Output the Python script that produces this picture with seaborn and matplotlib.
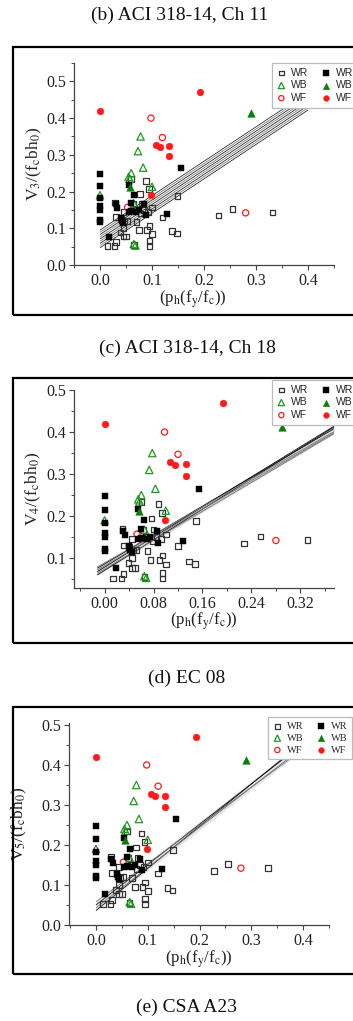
import numpy as np
import pandas as pd
import matplotlib
matplotlib.use("Agg")
import matplotlib.pyplot as plt
import seaborn as sns
from matplotlib.patches import Rectangle
from matplotlib.ticker import AutoMinorLocator, FixedLocator, FormatStrFormatter

# ---------------- data ----------------
wr_open_x = [0.014, 0.028, 0.031, 0.039, 0.045, 0.045, 0.050, 0.031, 0.045, 0.061, 0.029, 0.060,
             0.063, 0.070, 0.075, 0.077, 0.080, 0.085, 0.088, 0.090, 0.094, 0.095, 0.095, 0.095,
             0.100, 0.100, 0.120, 0.138, 0.148, 0.149, 0.228, 0.255, 0.332, 0.040, 0.068, 0.078,
             0.052, 0.065, 0.047, 0.092]
wr_open_y = [0.052, 0.052, 0.062, 0.088, 0.100, 0.077, 0.077, 0.130, 0.145, 0.148, 0.170, 0.234,
             0.167, 0.117, 0.095, 0.194, 0.168, 0.150, 0.229, 0.095, 0.207, 0.106, 0.065, 0.052,
             0.085, 0.156, 0.129, 0.092, 0.086, 0.188, 0.135, 0.152, 0.143, 0.127, 0.150, 0.140,
             0.120, 0.055, 0.118, 0.145]
wr_fill_x = [0.0, 0.0, 0.0, 0.0, 0.0, 0.0, 0.0, 0.018, 0.030, 0.033, 0.040, 0.042, 0.055, 0.055,
             0.060, 0.065, 0.070, 0.075, 0.085, 0.088, 0.128, 0.155, 0.060, 0.045]
wr_fill_y = [0.247, 0.215, 0.183, 0.160, 0.150, 0.122, 0.118, 0.077, 0.165, 0.155, 0.128, 0.120,
             0.145, 0.218, 0.170, 0.190, 0.145, 0.150, 0.165, 0.137, 0.140, 0.265, 0.147, 0.115]
wb_open_x = [0.0, 0.057, 0.060, 0.065, 0.073, 0.078, 0.083, 0.100, 0.065, 0.068, 0.055]
wb_open_y = [0.190, 0.235, 0.250, 0.168, 0.310, 0.350, 0.265, 0.213, 0.057, 0.053, 0.240]
wb_fill_x = [0.057, 0.290]
wb_fill_y = [0.213, 0.413]
wf_open_x = [0.053, 0.098, 0.120, 0.280]
wf_open_y = [0.157, 0.400, 0.347, 0.142]
wf_fill_x = [0.0, 0.193, 0.107, 0.115, 0.133, 0.133, 0.098]
wf_fill_y = [0.420, 0.470, 0.328, 0.322, 0.323, 0.296, 0.190]

# code-prediction bands (start / end values of each line)
band1_x = [0.0, 0.40]
band1_start = [0.047, 0.053, 0.059, 0.065, 0.071, 0.077, 0.083, 0.089, 0.095]
band1_end = [0.422, 0.428, 0.434, 0.440, 0.446, 0.452, 0.458, 0.464, 0.470]
band2_x = [-0.012, 0.375]
band2_start = [0.060, 0.064, 0.068, 0.072, 0.076, 0.079]
band2_end = [0.412, 0.396, 0.414, 0.398, 0.408, 0.401]
band3_x = [0.0, 0.44]
band3_start = [0.036, 0.043, 0.050, 0.058]
band3_end = [0.500, 0.485, 0.494, 0.478]

titles = ["(b) ACI 318-14, Ch 11", "(c) ACI 318-14, Ch 18", "(d) EC 08", "(e) CSA A23"]
ylabels = [r"V$_\mathrm{3}$/(f$_\mathrm{c}$bh$_\mathrm{0}$)",
           r"V$_\mathrm{4}$/(f$_\mathrm{c}$bh$_\mathrm{0}$)",
           r"V$_\mathrm{5}$/(f$_\mathrm{c}$bh$_\mathrm{0}$)"]
xlabel = r"(p$_\mathrm{h}$(f$_\mathrm{y}$/f$_\mathrm{c}$))"
xticks_a = [0.0, 0.1, 0.2, 0.3, 0.4]
xticks_b = [0.00, 0.08, 0.16, 0.24, 0.32]
yticks_a = [0.0, 0.1, 0.2, 0.3, 0.4, 0.5]
yticks_b = [0.1, 0.2, 0.3, 0.4, 0.5]
legend_labels = ["WR", "WB", "WF", "WR", "WB", "WF"]

# ---------------- style ----------------
sns.set_style("ticks")
plt.rcParams["font.family"] = ["Liberation Serif", "DejaVu Serif"]
plt.rcParams["mathtext.fontset"] = "stix"

W, H = 353, 1021
fig = plt.figure(figsize=(W / 100, H / 100), dpi=100)

def fx(px):
    return px / W

def fy(py):
    return 1 - py / H

GREEN = "#1f9a1f"
DKGREEN = "#0a7d0a"
RED = "#ff1a1a"
GRAY = "#333333"

panels = [
    dict(rect=[fx(74), fy(265), 260 / W, 202 / H], xlim=(-0.05, 0.45), ylim=(0.0, 0.55),
         xt=xticks_a, xfmt="%.1f", yt=yticks_a, bx=band1_x, bs=band1_start, be=band1_end,
         leg=(272, 63), legfont="Liberation Sans", frame=(47, 315), ylab=ylabels[0],
         ylc=-0.115, xlc=0.455, fill="#f4f4f4", lw=0.5),
    dict(rect=[fx(74), fy(588), 260 / W, 198 / H], xlim=(-0.05, 0.375), ylim=(0.029, 0.5),
         xt=xticks_b, xfmt="%.2f", yt=yticks_b, bx=band2_x, bs=band2_start, be=band2_end,
         leg=(272, 380), legfont="Liberation Sans", frame=(378, 643), ylab=ylabels[1],
         ylc=-0.12, xlc=0.5, fill="#d8d8d8", lw=0.6),
    dict(rect=[fx(69), fy(925), 260 / W, 202 / H], xlim=(-0.052, 0.45), ylim=(0.0, 0.505),
         xt=xticks_a, xfmt="%.1f", yt=yticks_a, bx=band3_x, bs=band3_start, be=band3_end,
         leg=(268, 717), legfont="Liberation Serif", frame=(707, 974), ylab=ylabels[2],
         ylc=-0.155, xlc=0.5, fill="#e6e6e6", lw=0.6),
]

groups = [
    (wr_open_x, wr_open_y, dict(marker="s", s=16, facecolor="none", edgecolor=GRAY, linewidth=0.9)),
    (wb_open_x, wb_open_y, dict(marker="^", s=28, facecolor="none", edgecolor=GREEN, linewidth=0.9)),
    (wf_open_x, wf_open_y, dict(marker="o", s=20, facecolor="none", edgecolor=RED, linewidth=0.9)),
    (wr_fill_x, wr_fill_y, dict(marker="s", s=22, facecolor="black", edgecolor="black", linewidth=0.3)),
    (wb_fill_x, wb_fill_y, dict(marker="^", s=30, facecolor=DKGREEN, edgecolor=DKGREEN, linewidth=0.3)),
    (wf_fill_x, wf_fill_y, dict(marker="o", s=24, facecolor=RED, edgecolor=RED, linewidth=0.3)),
]

for p in panels:
    ax = fig.add_axes(p["rect"])
    # band of code-prediction lines
    ax.fill_between(p["bx"], [min(p["bs"]), min(p["be"])], [max(p["bs"]), max(p["be"])],
                    color=p["fill"], lw=0, zorder=0.5)
    for i, (s0, s1) in enumerate(zip(p["bs"], p["be"])):
        ax.plot(p["bx"], [s0, s1], color="#111111" if i % 2 == 0 else "#777777",
                lw=p["lw"], zorder=1, solid_capstyle="butt")
    handles = []
    for gx, gy, kw in groups:
        df = pd.DataFrame({"x": gx, "y": gy})
        sns.scatterplot(data=df, x="x", y="y", ax=ax, zorder=3, legend=False, **kw)
        handles.append(ax.collections[-1])
    ax.set_xlim(*p["xlim"])
    ax.set_ylim(*p["ylim"])
    ax.xaxis.set_major_locator(FixedLocator(p["xt"]))
    ax.yaxis.set_major_locator(FixedLocator(p["yt"]))
    ax.xaxis.set_major_formatter(FormatStrFormatter(p["xfmt"]))
    ax.yaxis.set_major_formatter(FormatStrFormatter("%.1f"))
    ax.xaxis.set_minor_locator(AutoMinorLocator(2))
    ax.yaxis.set_minor_locator(AutoMinorLocator(2))
    ax.tick_params(which="major", direction="out", length=3.5, width=0.8, colors="#444444",
                   labelsize=11.5, labelcolor="#222222", pad=2)
    ax.tick_params(which="minor", direction="out", length=2, width=0.7, colors="#444444")
    sns.despine(ax=ax)
    for sp in ["left", "bottom"]:
        ax.spines[sp].set_color("#444444")
        ax.spines[sp].set_linewidth(0.9)
    ax.set_ylabel(p["ylab"], fontsize=12.5, color="#222222")
    ax.yaxis.set_label_coords(p["ylc"], 0.5)
    ax.set_xlabel(xlabel, fontsize=12, color="#222222", labelpad=1)
    ax.xaxis.set_label_coords(p["xlc"], -0.115)
    leg = ax.legend(handles, legend_labels, ncol=2, loc="upper left",
                    bbox_to_anchor=(fx(p["leg"][0]), fy(p["leg"][1])),
                    bbox_transform=fig.transFigure, borderaxespad=0, frameon=True,
                    fancybox=False, edgecolor="#bbbbbb", framealpha=1,
                    prop={"family": p["legfont"], "size": 7.5},
                    handletextpad=0.5, columnspacing=1.2, labelspacing=0.25,
                    borderpad=0.45, handlelength=0.9, markerscale=0.85)
    leg.get_frame().set_linewidth(0.9)
    leg.set_zorder(10)
    f0, f1 = p["frame"]
    fig.add_artist(Rectangle((fx(13), fy(f1)), 1.0, (f1 - f0) / H, transform=fig.transFigure,
                             fill=False, lw=1.6, edgecolor="black", clip_on=False))

for t, (tx, ty) in zip(titles, [(180, 15), (187, 348), (187, 678), (187, 1007)]):
    fig.text(fx(tx), fy(ty), t, ha="center", va="center", fontsize=14, color="#111111")

fig.savefig("out.png", dpi=100)
